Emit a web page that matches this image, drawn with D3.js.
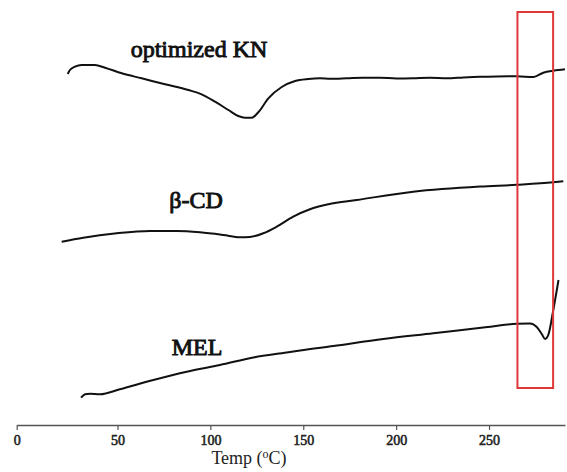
<!DOCTYPE html>
<html>
<head>
<meta charset="utf-8">
<script src="https://cdn.jsdelivr.net/npm/d3@7"></script>
<style>
  html, body { margin: 0; padding: 0; background: #fff; }
  svg { display: block; }
</style>
</head>
<body>
<script>
// ---- data (temperature in °C, signal in arbitrary heat-flow units) ----
const knTemps   = [25.3, 26.4, 28.9, 32.2, 38.8, 43.8, 52.3, 63.0, 75.6, 88.1, 95.3, 102.5, 109.7, 115.0, 118.6, 122.2, 125.8, 131.2, 138.4, 145.6, 152.7, 159.0, 164.5, 173.4, 182.0, 191.3, 200.1, 209.1, 218.1, 227.3, 236.2, 245.2, 254.3, 264.9, 273.9, 279.2, 284.7, 290.9];
const knValues  = [351, 355, 358.3, 360, 360, 357.3, 351.7, 346.7, 340.7, 335, 330.7, 323.3, 315, 309, 307.3, 307.3, 312.7, 326.7, 338, 344, 346, 346.7, 346.2, 346.7, 347.3, 347.3, 346.5, 346.7, 347.2, 346.7, 347.6, 348.3, 348.6, 348.7, 348, 352.3, 354.3, 355.7];

const cdTemps   = [22.3, 33.0, 49.6, 67.5, 81.9, 94.4, 107.0, 116.0, 121.3, 128.5, 135.7, 144.6, 153.6, 163.5, 178.8, 209.2, 245.2, 264.9, 284.6, 290.0];
const cdValues  = [183.3, 187.3, 191.7, 194, 194, 192.7, 190, 187.7, 188, 191.7, 198.3, 208.3, 215.7, 220.7, 225, 233.3, 238.5, 240.2, 242.7, 243.8];

const melTemps  = [31.9, 33.9, 36.4, 41.3, 51.3, 69.3, 87.3, 105.2, 123.1, 141.1, 148.3, 166.2, 193.1, 220.0, 246.9, 264.9, 272.1, 275.7, 278.4, 280.2, 281.9, 284.6, 287.4];
const melValues = [27.3, 30.7, 31.3, 30.7, 35.7, 45, 53.3, 60, 67.5, 72.5, 74.5, 79, 86, 91.7, 97.5, 101.2, 101.5, 98, 91, 86, 90, 115, 145];

const tickValues = [0, 50, 100, 150, 200, 250];
const seriesLabels = ["optimized KN", "β-CD", "MEL"];
const highlightRange = [265.3, 284.5];  // °C, region boxed in red
const highlightSignal = [37, 413];      // signal units, box vertical extent

// ---- layout ----
const W = 567, H = 472;
const SERIF = "'Liberation Serif', 'Times New Roman', Times, serif";
const svg = d3.select("body").append("svg").attr("width", W).attr("height", H);
svg.append("rect").attr("width", W).attr("height", H).attr("fill", "#fff");

// the original axis is slightly uneven between 0 and 50, so a polylinear scale is used
const x = d3.scaleLinear().domain([0, 50, 290.9]).range([16.7, 117.5, 565]);
const y = d3.scaleLinear().domain([0, 425]).range([425, 0]);

// axis
const axis = d3.axisBottom(x).tickValues(tickValues).tickSize(5).tickSizeOuter(0).tickFormat(d3.format("d"));
const gx = svg.append("g").attr("transform", `translate(0,${y(0)})`).call(axis);
gx.select(".domain").attr("stroke", "#555").attr("stroke-width", 1.5);
gx.selectAll(".tick line").attr("stroke", "#555").attr("stroke-width", 1.2);
gx.selectAll(".tick text")
  .attr("font-family", SERIF)
  .attr("font-size", 14).attr("fill", "#222")
  .attr("stroke", "#222").attr("stroke-width", 0.55)
  .attr("dy", "0.85em");

// axis title
const title = svg.append("text").attr("x", 249).attr("y", 464)
  .attr("text-anchor", "middle")
  .attr("font-family", SERIF)
  .attr("font-size", 18).attr("fill", "#222");
title.append("tspan").text("Temp (");
title.append("tspan").attr("font-size", 12).attr("dy", -6).text("o");
title.append("tspan").attr("dy", 6).text("C)");

// curves
const line = d3.line().x(d => x(d[0])).y(d => y(d[1])).curve(d3.curveMonotoneX);
const series = [
  d3.zip(knTemps, knValues),
  d3.zip(cdTemps, cdValues),
  d3.zip(melTemps, melValues)
];
svg.selectAll("path.curve").data(series).join("path").attr("class", "curve")
  .attr("d", line).attr("fill", "none").attr("stroke", "#111")
  .attr("stroke-width", 2).attr("stroke-linejoin", "round");

// series labels (bold look via a thin stroke)
const labelPos = [[199, 57], [196, 208], [197, 355]];
svg.selectAll("text.lab").data(seriesLabels).join("text").attr("class", "lab")
  .attr("x", (d, i) => labelPos[i][0]).attr("y", (d, i) => labelPos[i][1])
  .attr("text-anchor", "middle")
  .attr("font-family", SERIF)
  .attr("font-size", 24).attr("fill", "#111")
  .attr("stroke", "#111").attr("stroke-width", 0.9)
  .text(d => d);

// highlight box
svg.append("rect")
  .attr("x", x(highlightRange[0])).attr("width", x(highlightRange[1]) - x(highlightRange[0]))
  .attr("y", y(highlightSignal[1])).attr("height", y(highlightSignal[0]) - y(highlightSignal[1]))
  .attr("fill", "none").attr("stroke", "#e0383a").attr("stroke-width", 2);
</script>
</body>
</html>
